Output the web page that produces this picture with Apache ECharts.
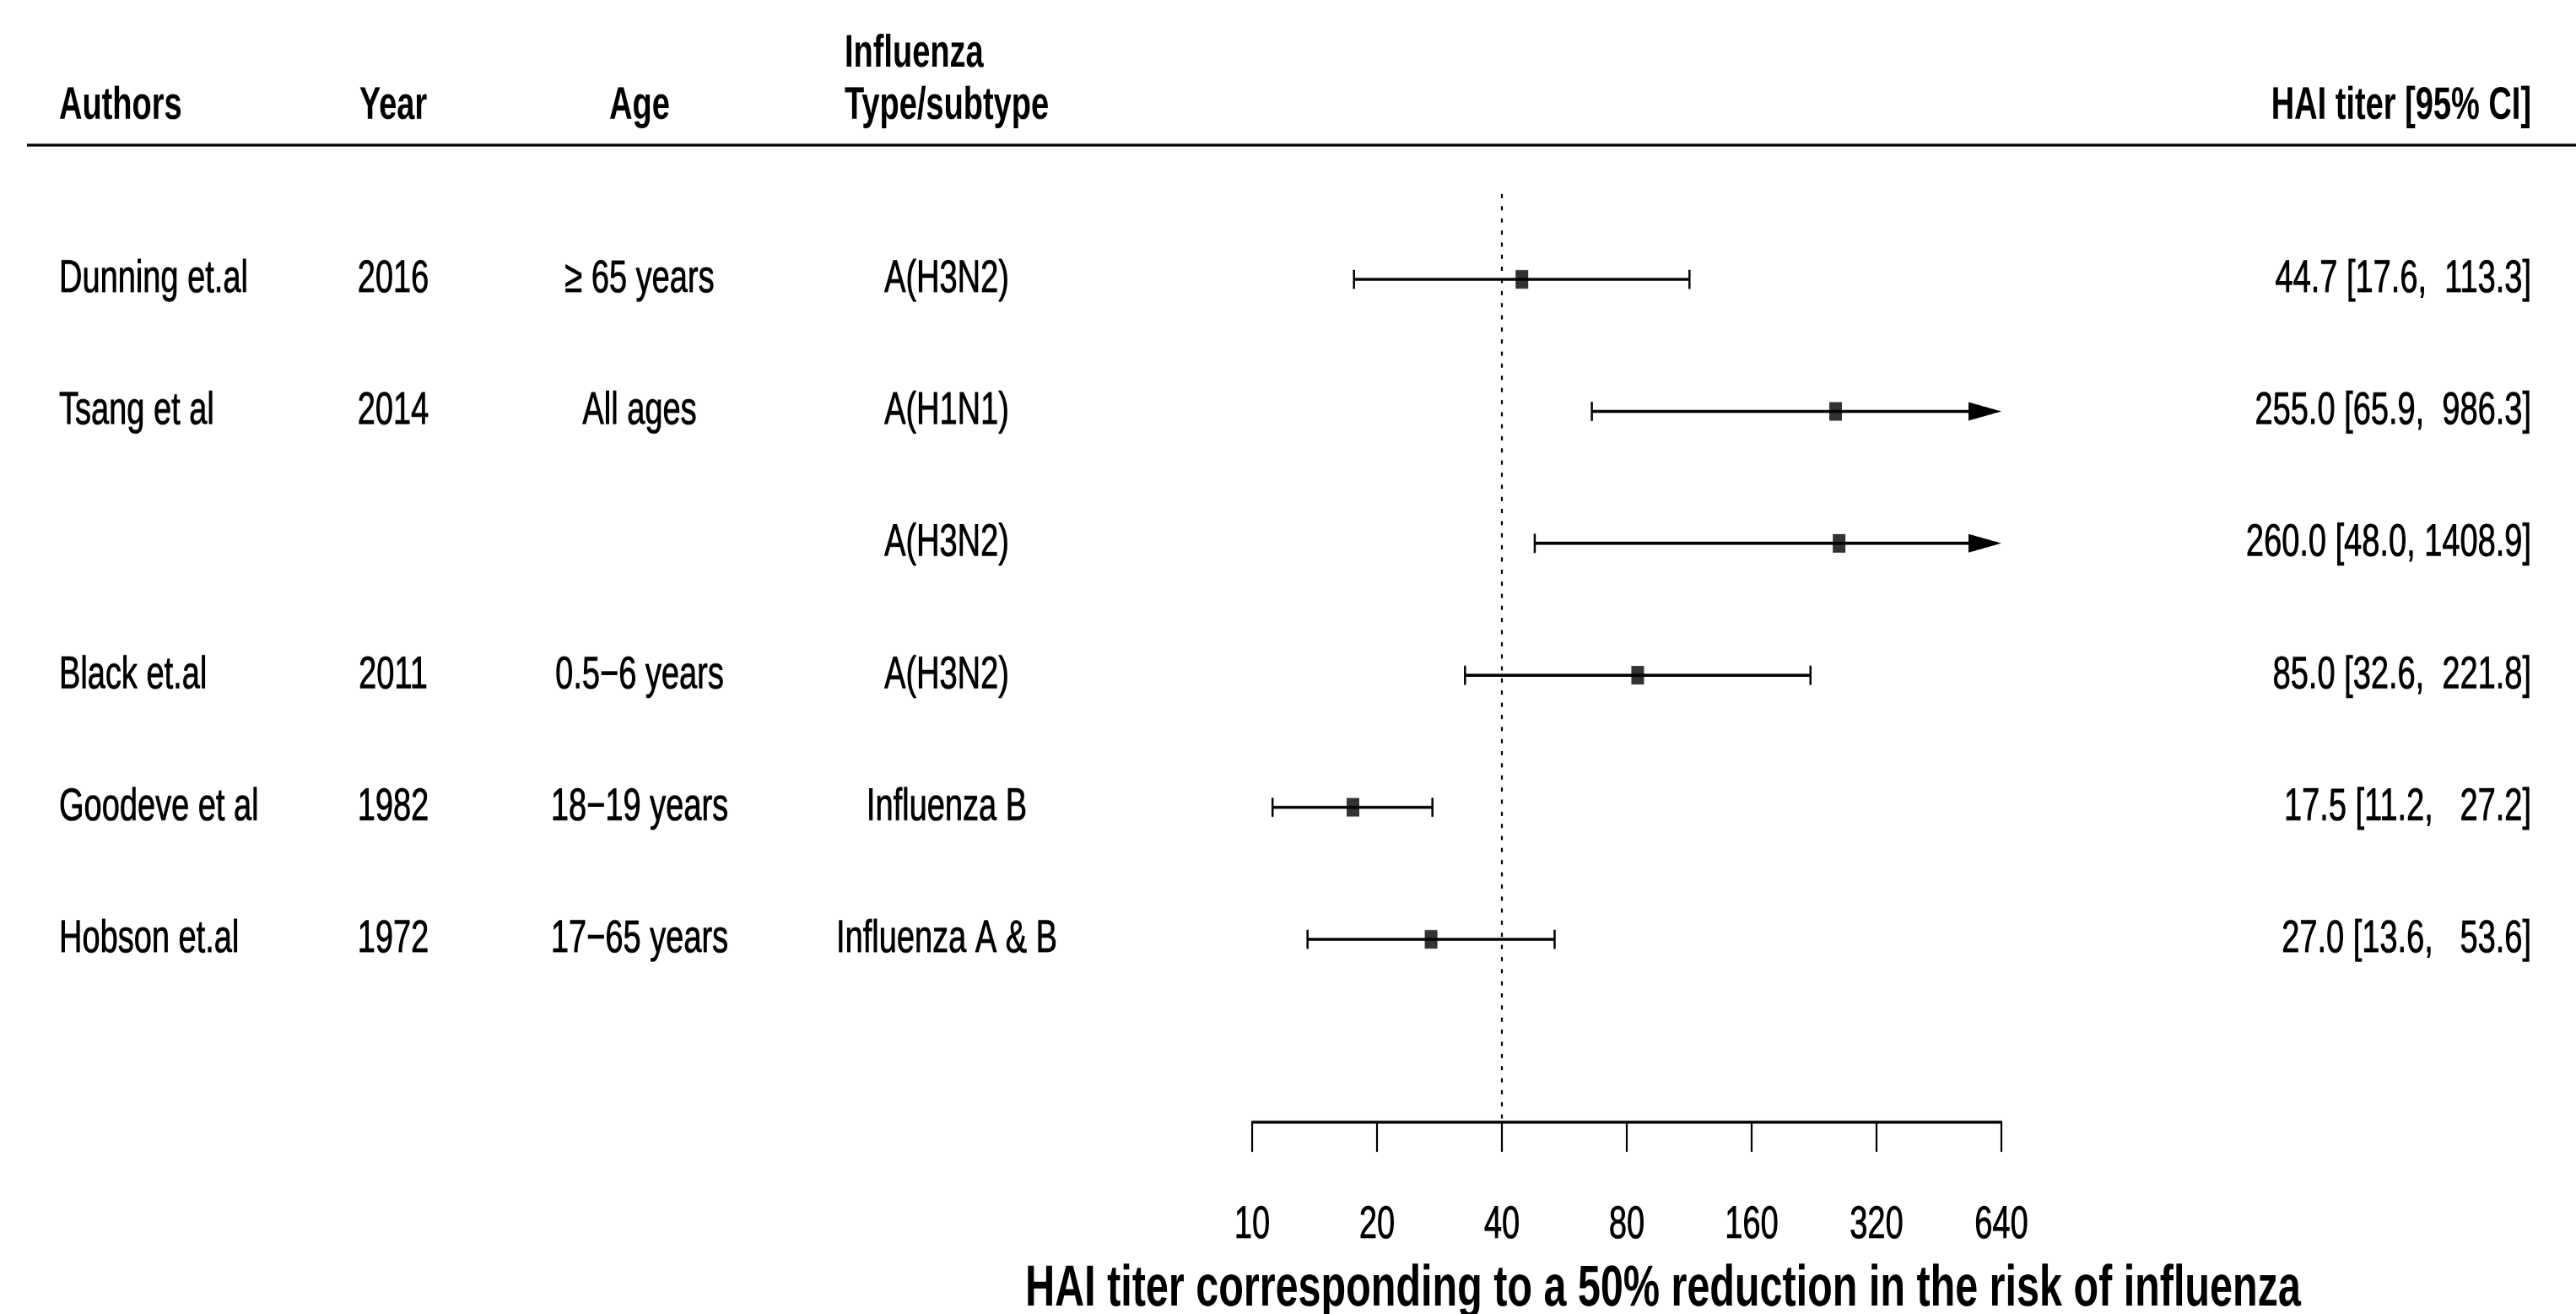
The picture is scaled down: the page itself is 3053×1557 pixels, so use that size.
<!DOCTYPE html>
<html>
<head>
<meta charset="utf-8">
<script src="https://cdn.jsdelivr.net/npm/echarts@6/dist/echarts.min.js"></script>
<style>
html,body{margin:0;padding:0;background:#fff;overflow:hidden}
#wrap{width:3053px;height:1557px;overflow:hidden;position:relative;background:#fff}
#chart{width:3053px;height:1096px;transform-origin:0 0;}
</style>
</head>
<body>
<div id="wrap"><div id="chart"></div></div>
<script>
// ---- data ----
const authors  = ['Dunning et.al', 'Tsang et al', '', 'Black et.al', 'Goodeve et al', 'Hobson et.al'];
const years    = ['2016', '2014', '', '2011', '1982', '1972'];
const ages     = ['\u2265 65 years', 'All ages', '', '0.5\u22126 years', '18\u221219 years', '17\u221265 years'];
const subtypes = ['A(H3N2)', 'A(H1N1)', 'A(H3N2)', 'A(H3N2)', 'Influenza B', 'Influenza A & B'];
const estimates = [44.7, 255.0, 260.0, 85.0, 17.5, 27.0];
const lower     = [17.6, 65.9, 48.0, 32.6, 11.2, 13.6];
const upper     = [113.3, 986.3, 1408.9, 221.8, 27.2, 53.6];
const tickValues = [10, 20, 40, 80, 160, 320, 640];
const refValue = 40;
const headerCols = { authors: 'Authors', year: 'Year', age: 'Age', type1: 'Influenza', type2: 'Type/subtype', ci: 'HAI titer [95% CI]' };
const xTitle = 'HAI titer corresponding to a 50% reduction in the risk of influenza';

// ---- layout ----
const H0 = 1096;
const S = 1557 / H0;                 // vertical stretch of the original figure
document.getElementById('chart').style.transform = 'scaleY(' + S + ')';
const Y = v => v / S;
const FONT = '"Liberation Sans", Arial, Helvetica, sans-serif';
const ROW1 = 331, ROWSTEP = 156.4;
const Y0 = ROW1 - ROWSTEP;
const AXIS_Y = 1330;
const YMAX = (AXIS_Y - Y0) / ROWSTEP;
const X_LEFT = 1484, X_RIGHT = 2372;
const COL_AUTH = 70, COL_YEAR = 466, COL_AGE = 758, COL_TYPE_HDR = 1001, COL_TYPE = 1122, COL_CI = 3000;
const TXT_BORDER = 0.6;

const lg = v => Math.log2(v / tickValues[0]);
const XMAX = lg(tickValues[tickValues.length - 1]);

const ciLabels = estimates.map((e, i) =>
  e.toFixed(1) + ' [' + lower[i].toFixed(1) + ', ' + upper[i].toFixed(1).padStart(6, ' ') + ']');

function colAxis(arr, label, axis) {
  return Object.assign({
    type: 'value', min: 0, max: YMAX, interval: 1, inverse: true,
    axisLine: { show: false }, axisTick: { show: false }, splitLine: { show: false },
    axisLabel: Object.assign({
      formatter: v => (Math.abs(v - Math.round(v)) < 1e-6 && v >= 1 && v <= arr.length) ? arr[Math.round(v) - 1] : '',
      fontSize: 38, color: '#000', fontFamily: FONT, showMinLabel: true, showMaxLabel: true,
      textBorderColor: '#000', textBorderWidth: TXT_BORDER
    }, label)
  }, axis || {});
}

const chart = echarts.init(document.getElementById('chart'), null, { renderer: 'canvas', devicePixelRatio: 2 });

const headerY = Y(126);
const hdrFont = 'bold 38px ' + FONT;
function hdr(text, x, y, align) {
  return { type: 'text', x: x, y: y, silent: true,
    style: { text: text, font: hdrFont, fill: '#000', align: align, textAlign: align, verticalAlign: 'middle', textVerticalAlign: 'middle' } };
}

const option = {
  backgroundColor: '#fff',
  animation: false,
  grid: { left: X_LEFT, width: X_RIGHT - X_LEFT, top: Y(Y0), height: Y(AXIS_Y - Y0), outerBoundsMode: 'none', containLabel: false },
  xAxis: {
    type: 'value', min: 0, max: XMAX, interval: 1, position: 'bottom',
    axisLine: { show: true, onZero: false, lineStyle: { color: '#000', width: 2.4 } },
    axisTick: { show: true, length: 24.6, lineStyle: { color: '#000', width: 2.2 } },
    splitLine: { show: false },
    axisLabel: { formatter: v => String(tickValues[Math.round(v)]), fontSize: 38, color: '#000', margin: 67, fontFamily: FONT,
      textBorderColor: '#000', textBorderWidth: TXT_BORDER },
    name: xTitle, nameLocation: 'middle', nameGap: 115,
    nameTextStyle: { fontSize: 48.5, fontWeight: 'bold', color: '#000', fontFamily: FONT, padding: [0, 0, 0, 86] }
  },
  yAxis: [
    colAxis(authors, { align: 'left', margin: X_LEFT - COL_AUTH, padding: [0, 0, 11, 0] }, { position: 'left' }),
    colAxis(years, { align: 'center', margin: X_LEFT - COL_YEAR, padding: [3, 0, 0, 0] }, { position: 'left' }),
    colAxis(ages, { align: 'center', margin: X_LEFT - COL_AGE, padding: [0, 0, 11, 0] }, { position: 'left' }),
    colAxis(subtypes, { align: 'center', margin: X_LEFT - COL_TYPE, padding: [0, 0, 11, 0] }, { position: 'left' }),
    colAxis(ciLabels, { align: 'right', margin: COL_CI - X_RIGHT, padding: [0, 0, 11, 0] }, { position: 'right' })
  ],
  graphic: [
    { type: 'line', silent: true, shape: { x1: 32, y1: Y(172), x2: 3053, y2: Y(172) }, style: { stroke: '#000', lineWidth: 2.4 } },
    hdr(headerCols.authors, COL_AUTH, headerY, 'left'),
    hdr(headerCols.year, COL_YEAR, headerY, 'center'),
    hdr(headerCols.age, COL_AGE, headerY, 'center'),
    hdr(headerCols.type1, COL_TYPE_HDR, Y(64), 'left'),
    hdr(headerCols.type2, COL_TYPE_HDR, headerY, 'left'),
    hdr(headerCols.ci, COL_CI, headerY, 'right')
  ],
  series: [
    {
      type: 'custom',
      clip: false,
      z: 2,
      encode: { x: [0, 1], y: 2 },
      data: lower.map((lo, i) => [lg(lo), lg(upper[i]), i + 1]),
      renderItem: function (params, api) {
        const lo = api.value(0), hi = api.value(1), k = api.value(2);
        const clipped = hi > XMAX;
        const p1 = api.coord([lo, k]);
        const p2 = api.coord([Math.min(hi, XMAX), k]);
        const y = p1[1];
        const capH = 16, arrL = 39, arrH = 15.5;
        const st = { stroke: '#000', lineWidth: 2.5 };
        const children = [
          { type: 'line', shape: { x1: p1[0], y1: y, x2: clipped ? p2[0] - arrL + 2 : p2[0], y2: y }, style: st },
          { type: 'line', shape: { x1: p1[0], y1: y - capH / 2, x2: p1[0], y2: y + capH / 2 }, style: st }
        ];
        if (clipped) {
          children.push({ type: 'polygon', shape: { points: [[p2[0] - arrL, y - arrH / 2], [p2[0], y], [p2[0] - arrL, y + arrH / 2]] }, style: { fill: '#000' } });
        } else {
          children.push({ type: 'line', shape: { x1: p2[0], y1: y - capH / 2, x2: p2[0], y2: y + capH / 2 }, style: st });
        }
        return { type: 'group', children: children };
      }
    },
    {
      type: 'scatter',
      z: 3,
      symbol: 'rect',
      symbolSize: [15, 15.5],
      itemStyle: { color: '#000' },
      data: estimates.map((e, i) => [lg(e), i + 1]),
      markLine: {
        silent: true, symbol: 'none', label: { show: false },
        lineStyle: { color: '#000', width: 2.2, type: [3.5, 6.6] },
        data: [[{ coord: [lg(refValue), (230 - Y0) / ROWSTEP] }, { coord: [lg(refValue), YMAX] }]]
      }
    }
  ]
};
chart.setOption(option);
</script>
</body>
</html>
